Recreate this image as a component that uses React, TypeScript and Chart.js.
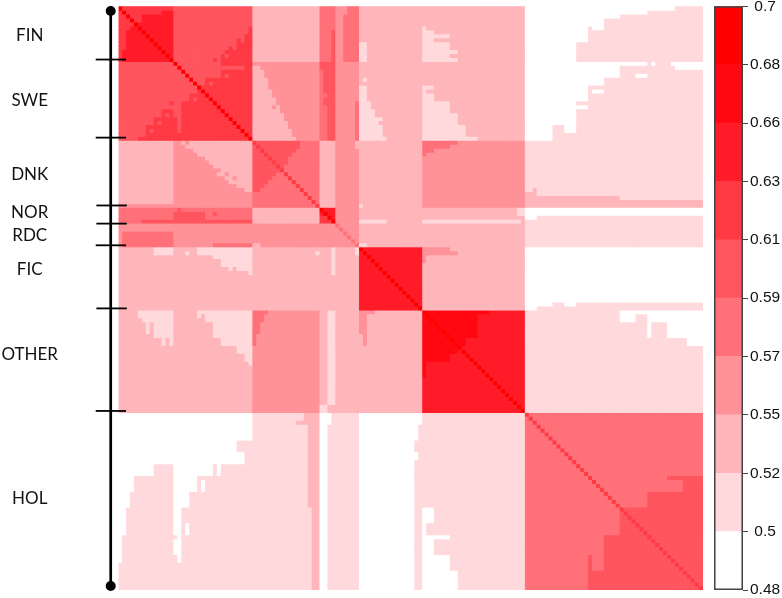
import React, { useEffect, useRef } from "react";
import { Chart, registerables } from "chart.js";

Chart.register(...registerables);

// ---- axis data ----
const groupNames = ["FIN", "SWE", "DNK", "NOR", "RDC", "FIC", "OTHER", "HOL"];
const groupStarts = [0, 14, 34, 51, 55, 61, 77, 103, 148];
const labelRows = [7.3, 23.9, 42.7, 52.3, 58.1, 66.8, 88.2, 124.7];
const boundaryRows = [13.5, 33.3, 50.5, 55.1, 60.6, 76.6, 102.6];
const boundarySpans = [
  [-5.77, 1.9], [-5.77, 1.9], [-5.6, 2.1], [-5.6, 2.1], [-5.77, 1.9], [-5.6, 2.1], [-5.77, 1.9],
];
const spine = [{ x: -1.97, y: 1.2 }, { x: -1.97, y: 147 }];

// ---- colour scale ----
const bandEdges = [0.48, 0.502, 0.524, 0.546, 0.568, 0.59, 0.612, 0.634, 0.656, 0.678, 0.7];
const bandLabels = ["0.48", "0.5", "0.52", "0.55", "0.57", "0.59", "0.61", "0.63", "0.66", "0.68", "0.7"];
const bandColors = ["#FFFFFF", "#FFD9DC", "#FFB6BB", "#FF9299", "#FF7079", "#FF555F", "#FF3A45", "#FF1C28", "#FF0812", "#FF0000"];

// ---- similarity, as colour-band index, block by block ----
const blockLevels = [
  [6, 5, 2, 4, 3, 2, 2, 0],
  [5, 5, 3, 4, 3, 2, 2, 0],
  [2, 3, 4, 2, 3, 2, 3, 1],
  [4, 4, 2, 7, 3, 2, 2, 0],
  [3, 3, 3, 3, 3, 2, 2, 1],
  [2, 2, 2, 2, 2, 7, 2, 0],
  [2, 2, 3, 2, 2, 2, 7, 1],
  [0, 0, 1, 0, 1, 0, 1, 4],
];
const diagonalLevels = [9, 9, 6, 9, 4, 9, 9, 6];

// departures from the block level: [firstRow, lastRow, firstCol, lastCol, band]
type P = number[];
const finRows: P[] = [
  [1,1,11,13,7],[2,3,6,13,7],[4,4,4,13,7],[5,5,3,13,7],[6,10,2,13,7],[11,13,1,13,7],
  [5,6,33,33,6],[7,7,32,33,6],[8,9,30,33,6],[8,8,31,31,5],[10,10,28,33,6],[10,10,29,29,5],
  [11,11,27,33,6],[12,13,26,33,6],[12,12,27,27,5],[13,13,24,24,6],
  [6,13,54,54,5],[0,13,57,60,4],[0,1,57,57,3],
  [9,13,61,62,1],
  [5,5,77,77,1],[6,6,77,79,1],[7,7,77,83,1],[8,8,77,79,1],[9,10,77,83,1],[11,11,77,85,1],[12,12,77,83,1],[13,13,77,85,1],
  [0,0,141,147,1],[1,1,134,147,1],[2,2,127,147,1],[3,4,123,147,1],[5,5,119,119,1],[5,5,123,147,1],[6,8,119,147,1],[9,13,116,147,1],
];
const sweRows: P[] = [
  [24,24,13,13,6],[26,27,11,13,6],[27,27,12,12,5],[28,29,9,14,6],[29,29,10,10,5],[30,31,7,14,6],[31,31,8,8,5],[32,32,7,33,6],[33,33,5,33,6],
  [14,14,26,33,6],[15,15,32,33,6],[16,17,26,33,6],[17,17,27,27,5],[18,19,22,33,6],[19,19,23,23,5],[20,21,20,33,6],
  [22,22,18,33,6],[23,23,18,33,6],[23,23,19,19,5],[24,31,16,33,6],
  [15,15,34,35,2],[16,17,34,36,2],[18,18,34,37,2],[19,20,34,37,2],[21,22,34,38,2],[23,24,34,39,2],[25,26,34,40,2],[25,25,39,39,3],[27,28,34,41,2],[29,30,34,42,2],[31,32,34,43,2],[33,33,34,44,2],
  [14,15,51,54,5],[16,24,52,54,5],[25,33,53,54,5],[22,22,52,52,4],
  [24,33,60,60,4],
  [18,18,62,62,1],[20,23,61,62,1],[24,25,61,63,1],[26,27,61,64,1],[28,29,61,65,1],[28,28,66,66,1],[30,32,61,66,1],[33,33,61,67,1],
  [20,20,77,79,1],[21,21,77,77,1],[22,23,77,79,1],[24,26,77,83,1],[27,29,77,85,1],[30,32,77,87,1],[33,33,77,90,1],
  [14,14,134,134,1],[14,14,136,139,1],[15,15,127,140,1],[16,17,127,147,1],[17,17,131,133,0],[18,19,123,147,1],[20,21,119,147,1],[21,21,120,122,0],[22,23,119,147,1],
  [24,29,116,147,1],[25,25,116,118,0],[30,31,110,112,1],[30,31,116,147,1],[32,33,110,147,1],
];
const dnkRows: P[] = [
  [50,50,0,13,3],
  [34,34,16,33,2],[34,34,17,17,3],[35,35,17,33,2],[36,36,19,33,2],[37,37,20,33,2],[38,38,22,33,2],[39,39,23,33,2],[40,40,24,33,2],[41,41,26,33,2],[42,42,25,33,2],[42,42,27,27,3],[43,43,27,33,2],[43,43,29,29,3],[44,44,28,33,2],[45,45,30,33,2],[46,46,32,33,2],
  [34,35,34,45,5],[36,36,34,44,5],[37,37,34,43,5],[38,39,34,42,5],[40,41,34,41,5],[42,42,34,39,5],[43,43,34,38,5],[44,44,34,37,5],[45,45,34,36,5],[46,46,34,35,5],[43,43,43,43,5],
  [34,35,60,60,2],[50,50,61,61,1],
  [34,34,77,85,4],[35,35,77,83,4],[36,36,77,79,4],[37,37,77,77,4],
  [46,46,105,105,2],[47,47,103,105,2],[48,48,103,126,2],[49,50,103,147,2],
];
const norRows: P[] = [
  [54,54,6,13,5],[52,53,14,21,5],[51,51,15,15,5],[54,54,14,33,5],[52,52,24,24,5],
  [53,54,51,52,6],[54,54,53,53,6],
  [54,54,61,67,1],[54,54,77,101,1],[51,52,101,102,1],
  [53,53,106,147,1],[54,54,103,147,1],
];
const rdcRows: P[] = [
  [57,60,1,13,4],[60,60,24,33,4],[60,60,34,35,2],[60,60,61,62,1],
];
const ficRows: P[] = [
  [61,62,9,13,1],
  [61,62,20,33,1],[62,62,17,17,1],[63,63,24,33,1],[64,65,26,33,1],[66,66,30,33,1],[66,66,28,28,1],[67,67,33,33,1],
  [62,62,50,50,1],[61,67,54,54,1],[61,62,60,60,1],
  [61,61,77,83,3],[62,62,77,85,3],[63,64,77,77,3],
  [75,75,110,112,1],[75,75,116,147,1],[76,76,106,147,1],
];
const otherRows: P[] = [
  [77,78,5,13,1],[79,79,6,13,1],[80,82,7,7,1],[80,82,9,13,1],[83,83,9,13,1],[84,85,11,11,1],[84,85,13,13,1],
  [77,77,20,33,1],[78,78,20,20,1],[78,78,22,33,1],[79,79,22,33,1],[80,83,24,33,1],[84,85,26,33,1],[86,87,30,33,1],[88,89,32,33,1],[90,90,33,33,1],
  [77,77,34,37,4],[78,79,34,36,4],[80,82,34,35,4],[83,85,34,34,4],
  [77,100,53,54,1],[101,102,51,52,1],
  [77,77,61,64,3],[78,82,61,62,3],[83,85,62,62,3],
  [77,77,77,93,8],[78,83,77,90,8],[84,85,77,87,8],[86,86,77,86,8],[87,87,77,85,8],[88,89,77,83,8],[90,93,77,77,8],
  [77,77,127,147,0],[78,79,127,130,0],[78,79,134,147,0],[80,83,134,134,0],[80,83,139,147,0],[84,85,144,147,0],
];
const holRows: P[] = [
  [141,147,0,0,1],[134,147,1,1,1],[127,147,2,2,1],[123,147,3,3,1],[119,147,4,8,1],[116,147,9,13,1],
  [134,134,14,14,1],[139,147,14,14,1],[141,147,15,15,1],[127,147,16,16,1],[127,130,17,17,1],[134,147,17,17,1],[123,147,18,19,1],
  [119,147,20,20,1],[119,119,21,21,1],[123,147,21,21,1],[119,147,22,23,1],[116,147,24,24,1],[119,147,25,25,1],[116,147,26,29,1],
  [110,112,30,31,1],[116,147,30,31,1],[110,147,32,33,1],
  [103,104,47,50,2],[105,105,45,50,2],[106,126,48,50,2],[127,147,49,50,2],
  [106,147,53,53,1],[103,147,54,54,1],
  [106,109,76,76,1],[110,112,75,76,1],[113,114,76,76,1],[115,147,75,76,1],
  [127,130,77,79,0],[131,133,77,77,0],[134,134,77,83,0],[135,138,77,79,0],[139,142,77,83,0],[143,147,77,85,0],
  [119,119,139,147,5],[120,122,143,147,5],[123,126,134,147,5],[127,133,127,147,5],[134,142,123,147,5],[139,142,119,119,5],[143,147,119,147,5],
];

const patches: P[] = [...finRows, ...sweRows, ...dnkRows, ...norRows, ...rdcRows, ...ficRows, ...otherRows, ...holRows];

function buildMatrix(): number[][] {
  const m: number[][] = [];
  for (let g = 0; g < groupNames.length; g++) {
    for (let r = groupStarts[g]; r < groupStarts[g + 1]; r++) {
      const row: number[] = [];
      for (let h = 0; h < groupNames.length; h++) {
        for (let c = groupStarts[h]; c < groupStarts[h + 1]; c++) row.push(blockLevels[g][h]);
      }
      m.push(row);
    }
  }
  patches.forEach(([r0, r1, c0, c1, v]) => {
    for (let r = r0; r <= r1; r++) for (let c = c0; c <= c1; c++) m[r][c] = v;
  });
  for (let g = 0; g < groupNames.length; g++) {
    for (let i = groupStarts[g]; i < groupStarts[g + 1]; i++) m[i][i] = diagonalLevels[g];
  }
  return m;
}

export default function App() {
  const mainRef = useRef<HTMLCanvasElement>(null);
  const axisRef = useRef<HTMLCanvasElement>(null);
  const barRef = useRef<HTMLCanvasElement>(null);

  useEffect(() => {
    const matrix = buildMatrix();
    const n = matrix.length;
    const columns = matrix.map((_, i) => String(i));
    const cellSets: any[] = matrix.map((row, r) => ({
      label: "row " + r,
      stack: "cells",
      data: row.map(() => 1),
      backgroundColor: row.map((v) => bandColors[v]),
      borderWidth: 0,
      barPercentage: 1,
      categoryPercentage: 1,
      inflateAmount: 0.4,
    }));
    const main = new Chart(mainRef.current!, {
      type: "bar",
      data: { labels: columns, datasets: cellSets },
      options: {
        animation: false,
        responsive: false,
        devicePixelRatio: 1,
        events: [],
        layout: { padding: { left: 118.5, right: 5, top: 6.3, bottom: 8 } },
        plugins: { legend: { display: false }, tooltip: { enabled: false } },
        scales: {
          x: { type: "category", stacked: true, display: false },
          y: { type: "linear", stacked: true, display: false, reverse: true, min: 0, max: n },
        },
      } as any,
    } as any);

    const lineSets: any[] = [
      {
        label: "spine",
        data: spine,
        borderColor: "#000",
        backgroundColor: "#000",
        borderWidth: 2.7,
        pointRadius: 5,
        pointBorderWidth: 0,
        clip: false,
        order: 0,
      },
      ...boundaryRows.map((y, i) => ({
        label: "boundary " + i,
        data: [{ x: boundarySpans[i][0], y }, { x: boundarySpans[i][1], y }],
        borderColor: "#000",
        borderWidth: 1.8,
        pointRadius: 0,
        clip: false,
        order: 1,
      })),
    ];
    const axis = new Chart(axisRef.current!, {
      type: "line",
      data: { datasets: lineSets },
      options: {
        animation: false,
        responsive: false,
        devicePixelRatio: 1,
        events: [],
        layout: { autoPadding: false, padding: { left: 0, right: 0, top: 6.3, bottom: 8 } },
        plugins: { legend: { display: false }, tooltip: { enabled: false } },
        scales: {
          x: { type: "linear", display: false, min: -7.215, max: 2.91 },
          y: {
            type: "linear",
            position: "left",
            reverse: true,
            min: 0,
            max: n,
            grid: { display: false },
            border: { display: false },
            ticks: {
              autoSkip: false,
              crossAlign: "center",
              padding: 24,
              maxRotation: 0,
              color: "#111",
              font: { family: "Lato", size: 17 },
              callback: (_v: any, i: number) => groupNames[i],
            },
            afterBuildTicks: (s: any) => {
              s.ticks = labelRows.map((value) => ({ value }));
            },
            afterFit: (s: any) => {
              s.width = 90;
              s.paddingTop = 0;
              s.paddingBottom = 0;
            },
          },
        },
      } as any,
    } as any);

    const bandSets: any[] = bandColors.map((color, i) => ({
      label: bandLabels[i] + "-" + bandLabels[i + 1],
      data: [[bandEdges[i], bandEdges[i + 1]]],
      backgroundColor: color,
      borderWidth: 0,
      grouped: false,
      barPercentage: 1,
      categoryPercentage: 1,
      order: 2,
    }));
    const frameSet: any = {
      label: "frame",
      data: [[bandEdges[0], bandEdges[bandEdges.length - 1]]],
      backgroundColor: "rgba(0,0,0,0)",
      borderColor: "#444",
      borderWidth: 1.2,
      borderSkipped: false,
      grouped: false,
      barPercentage: 1,
      categoryPercentage: 1,
      order: 1,
    };
    const bar = new Chart(barRef.current!, {
      type: "bar",
      data: { labels: ["scale"], datasets: [...bandSets, frameSet] },
      options: {
        animation: false,
        responsive: false,
        devicePixelRatio: 1,
        events: [],
        layout: { padding: { left: 8, right: 0, top: 6.3, bottom: 8 } },
        plugins: { legend: { display: false }, tooltip: { enabled: false } },
        scales: {
          x: { display: false },
          y: {
            type: "linear",
            position: "right",
            min: 0.48,
            max: 0.7,
            grid: { display: true, drawOnChartArea: false, drawTicks: true, tickLength: 5, tickColor: "#444", lineWidth: 1 },
            border: { display: false },
            ticks: {
              autoSkip: false,
              crossAlign: "center",
              padding: 2,
              color: "#111",
              font: { family: "Liberation Sans", size: 15.5 },
              callback: (_v: any, i: number) => bandLabels[i],
            },
            afterBuildTicks: (s: any) => {
              s.ticks = bandEdges.map((value) => ({ value }));
            },
            afterFit: (s: any) => {
              s.width = 39;
              s.paddingTop = 0;
              s.paddingBottom = 0;
            },
          },
        },
      } as any,
    } as any);

    return () => {
      main.destroy();
      axis.destroy();
      bar.destroy();
    };
  }, []);

  return (
    <div style={{ position: "absolute", left: 0, top: 0, width: 782, height: 598, background: "#fff", overflow: "hidden" }}>
      <canvas ref={mainRef} width={708} height={598} style={{ position: "absolute", left: 0, top: 0, width: 708, height: 598 }} />
      <canvas ref={axisRef} width={130} height={598} style={{ position: "absolute", left: 0, top: 0, width: 130, height: 598 }} />
      <canvas ref={barRef} width={76} height={598} style={{ position: "absolute", left: 706, top: 0, width: 76, height: 598 }} />
    </div>
  );
}
